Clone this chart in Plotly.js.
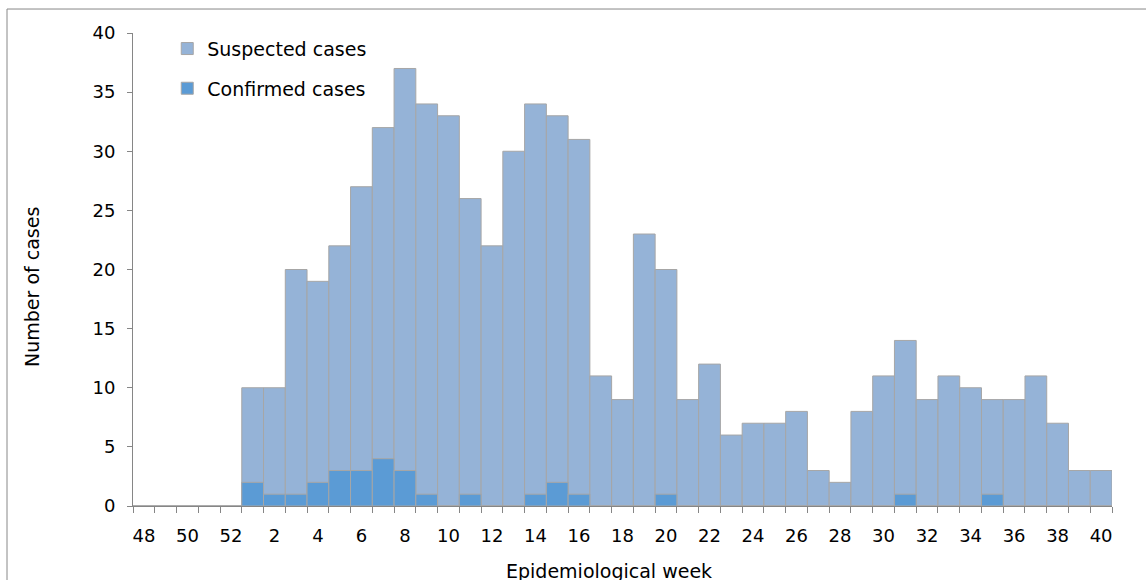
<!DOCTYPE html>
<html>
<head>
<meta charset="utf-8">
<script src="https://cdn.plot.ly/plotly-3.0.1.min.js"></script>
<style>
  html, body { margin: 0; padding: 0; background: #fff; }
  #chart { width: 1146px; height: 580px; }
</style>
</head>
<body>
<div id="chart"></div>
<script>
// Epidemiological weeks (48-52 of previous year, then 1-40)
const weeks = ['48','49','50','51','52','1','2','3','4','5','6','7','8','9','10','11','12','13','14','15','16','17','18','19','20','21','22','23','24','25','26','27','28','29','30','31','32','33','34','35','36','37','38','39','40'];
const suspected = [0,0,0,0,0,10,10,20,19,22,27,32,37,34,33,26,22,30,34,33,31,11,9,23,20,9,12,6,7,7,8,3,2,8,11,14,9,11,10,9,9,11,7,3,3];
const confirmed = [0,0,0,0,0,2,1,1,2,3,3,4,3,1,0,1,0,0,1,2,1,0,0,0,1,0,0,0,0,0,0,0,0,0,0,1,0,0,0,1,0,0,0,0,0];
const yTicks = [0,5,10,15,20,25,30,35,40];

const xIdx = weeks.map((w, i) => i);
const tickIdx = xIdx.filter(i => i % 2 === 0);
const tickText = tickIdx.map(i => weeks[i]);

const FONT = 'DejaVu Sans, Verdana, sans-serif';
const lineGray = '#A6A6A6';

const traces = [
  {
    type: 'bar', name: 'Suspected cases', x: xIdx, y: suspected,
    width: 1, legendgroup: 'a',
    marker: { color: '#95B3D7', line: { color: lineGray, width: 1 } },
    hovertemplate: 'Week %{customdata}: %{y}<extra></extra>', customdata: weeks
  },
  {
    type: 'bar', name: 'Confirmed cases', x: xIdx, y: confirmed,
    width: 1, legendgroup: 'b',
    marker: { color: '#5B9BD5', line: { color: lineGray, width: 1 } },
    hovertemplate: 'Week %{customdata}: %{y}<extra></extra>', customdata: weeks
  }
];

const layout = {
  width: 1146, height: 580,
  margin: { l: 133, r: 34, t: 33, b: 74 },
  paper_bgcolor: '#fff', plot_bgcolor: '#fff',
  barmode: 'overlay', bargap: 0,
  font: { family: FONT, size: 18, color: '#000' },
  showlegend: true,
  legend: {
    x: 0.035, y: 1.007, xanchor: 'left', yanchor: 'top',
    font: { family: FONT, size: 19, color: '#000' },
    traceorder: 'grouped', tracegroupgap: 12,
    bgcolor: 'rgba(0,0,0,0)', borderwidth: 0
  },
  xaxis: {
    type: 'linear', range: [-0.5, weeks.length - 0.5],
    tickmode: 'array', tickvals: tickIdx, ticktext: tickText,
    ticks: 'outside', ticklen: 5, tickcolor: 'rgba(0,0,0,0)',
    ticklabelstandoff: 8,
    tickfont: { family: FONT, size: 18, color: '#000' },
    minor: { tickmode: 'linear', tick0: -0.5, dtick: 1, ticks: 'outside', ticklen: 6, tickcolor: '#868686', tickwidth: 1, showgrid: false },
    showline: true, linecolor: '#868686', linewidth: 1,
    showgrid: false, zeroline: false, fixedrange: true
  },
  yaxis: {
    range: [0, 40], tickmode: 'array', tickvals: yTicks,
    ticks: 'outside', ticklen: 5, tickcolor: '#868686',
    ticklabelstandoff: 8,
    tickfont: { family: FONT, size: 18, color: '#000' },
    showline: true, linecolor: '#868686', linewidth: 1,
    showgrid: false, zeroline: false, fixedrange: true
  },
  annotations: [
    { text: 'Epidemiological week', xref: 'paper', yref: 'paper', x: 0.4862, y: -0.1374,
      xanchor: 'center', yanchor: 'middle', showarrow: false,
      font: { family: FONT, size: 19, color: '#000' } },
    { text: 'Number of cases', xref: 'paper', yref: 'paper', x: -0.1032, y: 0.463,
      xanchor: 'center', yanchor: 'middle', showarrow: false, textangle: -90,
      font: { family: FONT, size: 19, color: '#000' } }
  ],
  shapes: [
    { type: 'rect', xref: 'paper', yref: 'paper', x0: -0.1287, x1: 1.1, y0: -0.3, y1: 1.0507,
      line: { color: '#888888', width: 1 }, fillcolor: 'rgba(0,0,0,0)', layer: 'below' }
  ]
};

Plotly.newPlot('chart', traces, layout, { displayModeBar: false, staticPlot: true });
</script>
</body>
</html>
